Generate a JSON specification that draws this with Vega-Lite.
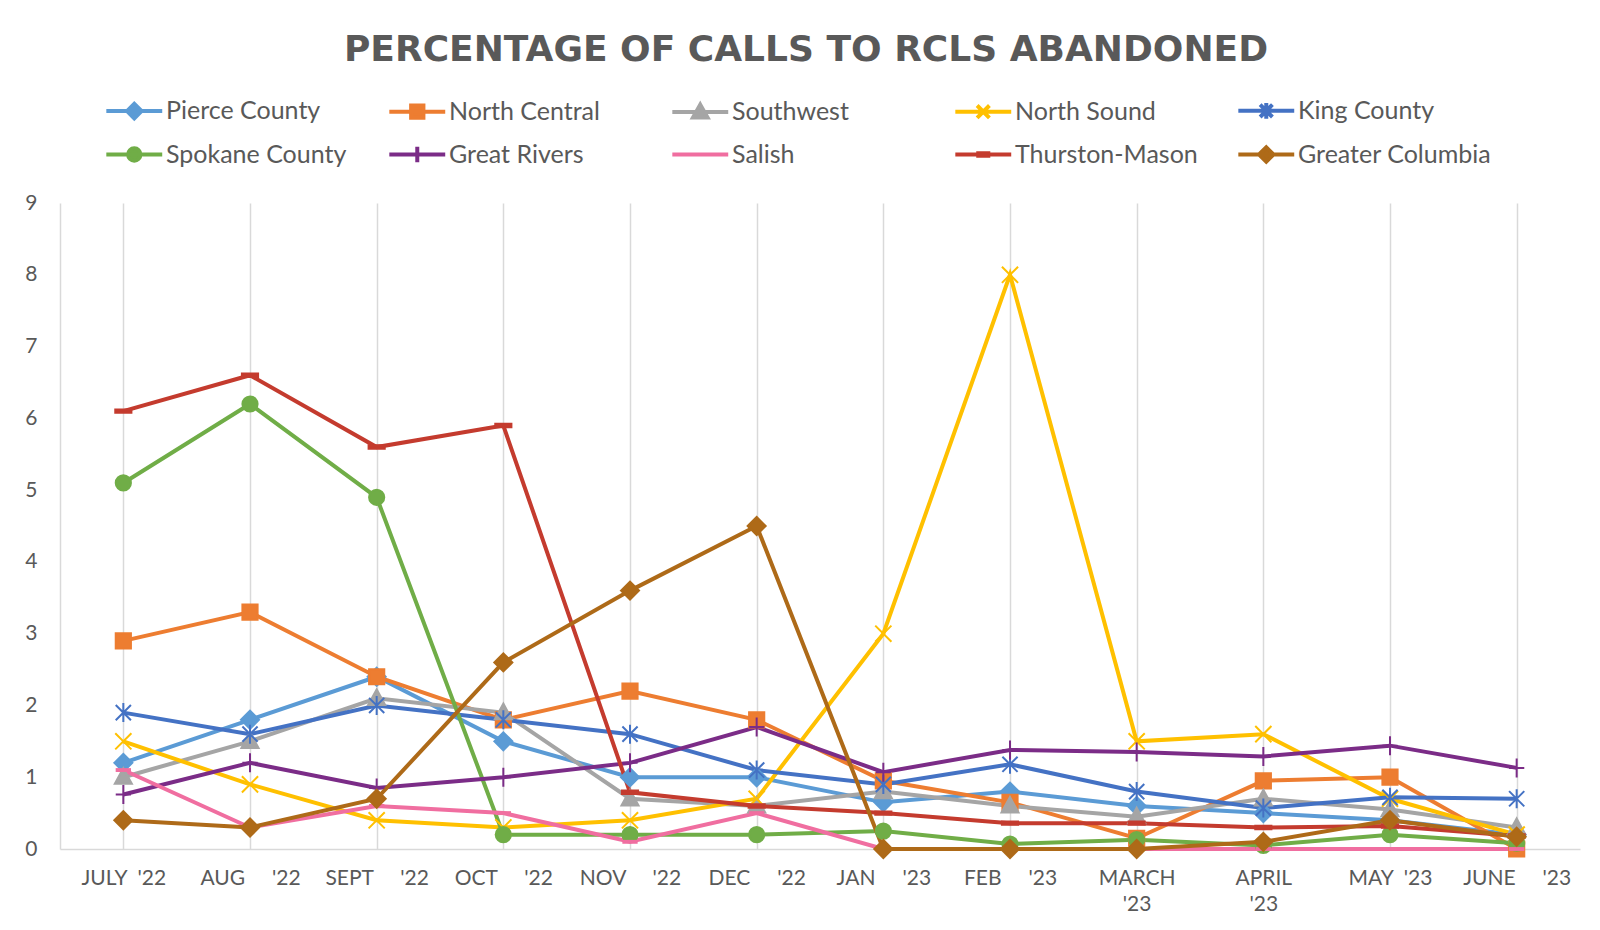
{
  "$schema": "https://vega.github.io/schema/vega-lite/v6.json",
  "width": 1520,
  "height": 646,
  "autosize": "none",
  "padding": {"left": 60, "top": 203, "right": 20, "bottom": 81},
  "background": "white",
  "title": {
    "text": "PERCENTAGE OF CALLS TO RCLS ABANDONED",
    "font": "DejaVu Sans",
    "fontSize": 36,
    "fontWeight": "bold",
    "color": "#595959",
    "anchor": "middle",
    "frame": "group",
    "dx": -14,
    "offset": 28
  },
  "config": {
    "view": {"stroke": null},
    "font": "Lato",
    "legend": {
      "titleLimit": 0,
      "direction": "horizontal",
      "columns": 5,
      "gridAlign": "all",
      "columnPadding": 21,
      "rowPadding": 11,
      "padding": 0,
      "symbolSize": 500,
      "labelOffset": 35,
      "labelFont": "Lato",
      "labelFontSize": 25,
      "labelColor": "#595959",
      "labelLimit": 300,
      "symbolOpacity": 1,
      "symbolStrokeWidth": 4
    }
  },
  "data": {
    "values": [
      {"m": "JULY '22", "r": "Pierce County", "v": 1.2},
      {"m": "AUG '22", "r": "Pierce County", "v": 1.8},
      {"m": "SEPT '22", "r": "Pierce County", "v": 2.4},
      {"m": "OCT '22", "r": "Pierce County", "v": 1.5},
      {"m": "NOV '22", "r": "Pierce County", "v": 1.0},
      {"m": "DEC '22", "r": "Pierce County", "v": 1.0},
      {"m": "JAN '23", "r": "Pierce County", "v": 0.65},
      {"m": "FEB '23", "r": "Pierce County", "v": 0.8},
      {"m": "MARCH '23", "r": "Pierce County", "v": 0.6},
      {"m": "APRIL '23", "r": "Pierce County", "v": 0.5},
      {"m": "MAY '23", "r": "Pierce County", "v": 0.4},
      {"m": "JUNE '23", "r": "Pierce County", "v": 0.2},

      {"m": "JULY '22", "r": "North Central", "v": 2.9},
      {"m": "AUG '22", "r": "North Central", "v": 3.3},
      {"m": "SEPT '22", "r": "North Central", "v": 2.4},
      {"m": "OCT '22", "r": "North Central", "v": 1.8},
      {"m": "NOV '22", "r": "North Central", "v": 2.2},
      {"m": "DEC '22", "r": "North Central", "v": 1.8},
      {"m": "JAN '23", "r": "North Central", "v": 0.95},
      {"m": "FEB '23", "r": "North Central", "v": 0.65},
      {"m": "MARCH '23", "r": "North Central", "v": 0.15},
      {"m": "APRIL '23", "r": "North Central", "v": 0.95},
      {"m": "MAY '23", "r": "North Central", "v": 1.0},
      {"m": "JUNE '23", "r": "North Central", "v": 0.0},

      {"m": "JULY '22", "r": "Southwest", "v": 1.0},
      {"m": "AUG '22", "r": "Southwest", "v": 1.5},
      {"m": "SEPT '22", "r": "Southwest", "v": 2.1},
      {"m": "OCT '22", "r": "Southwest", "v": 1.9},
      {"m": "NOV '22", "r": "Southwest", "v": 0.7},
      {"m": "DEC '22", "r": "Southwest", "v": 0.6},
      {"m": "JAN '23", "r": "Southwest", "v": 0.8},
      {"m": "FEB '23", "r": "Southwest", "v": 0.6},
      {"m": "MARCH '23", "r": "Southwest", "v": 0.45},
      {"m": "APRIL '23", "r": "Southwest", "v": 0.7},
      {"m": "MAY '23", "r": "Southwest", "v": 0.55},
      {"m": "JUNE '23", "r": "Southwest", "v": 0.3},

      {"m": "JULY '22", "r": "North Sound", "v": 1.5},
      {"m": "AUG '22", "r": "North Sound", "v": 0.9},
      {"m": "SEPT '22", "r": "North Sound", "v": 0.4},
      {"m": "OCT '22", "r": "North Sound", "v": 0.3},
      {"m": "NOV '22", "r": "North Sound", "v": 0.4},
      {"m": "DEC '22", "r": "North Sound", "v": 0.7},
      {"m": "JAN '23", "r": "North Sound", "v": 3.0},
      {"m": "FEB '23", "r": "North Sound", "v": 8.0},
      {"m": "MARCH '23", "r": "North Sound", "v": 1.5},
      {"m": "APRIL '23", "r": "North Sound", "v": 1.6},
      {"m": "MAY '23", "r": "North Sound", "v": 0.7},
      {"m": "JUNE '23", "r": "North Sound", "v": 0.2},

      {"m": "JULY '22", "r": "King County", "v": 1.9},
      {"m": "AUG '22", "r": "King County", "v": 1.6},
      {"m": "SEPT '22", "r": "King County", "v": 2.0},
      {"m": "OCT '22", "r": "King County", "v": 1.8},
      {"m": "NOV '22", "r": "King County", "v": 1.6},
      {"m": "DEC '22", "r": "King County", "v": 1.1},
      {"m": "JAN '23", "r": "King County", "v": 0.9},
      {"m": "FEB '23", "r": "King County", "v": 1.18},
      {"m": "MARCH '23", "r": "King County", "v": 0.8},
      {"m": "APRIL '23", "r": "King County", "v": 0.57},
      {"m": "MAY '23", "r": "King County", "v": 0.72},
      {"m": "JUNE '23", "r": "King County", "v": 0.7},

      {"m": "JULY '22", "r": "Spokane County", "v": 5.1},
      {"m": "AUG '22", "r": "Spokane County", "v": 6.2},
      {"m": "SEPT '22", "r": "Spokane County", "v": 4.9},
      {"m": "OCT '22", "r": "Spokane County", "v": 0.2},
      {"m": "NOV '22", "r": "Spokane County", "v": 0.2},
      {"m": "DEC '22", "r": "Spokane County", "v": 0.2},
      {"m": "JAN '23", "r": "Spokane County", "v": 0.25},
      {"m": "FEB '23", "r": "Spokane County", "v": 0.07},
      {"m": "MARCH '23", "r": "Spokane County", "v": 0.13},
      {"m": "APRIL '23", "r": "Spokane County", "v": 0.05},
      {"m": "MAY '23", "r": "Spokane County", "v": 0.2},
      {"m": "JUNE '23", "r": "Spokane County", "v": 0.08},

      {"m": "JULY '22", "r": "Great Rivers", "v": 0.76},
      {"m": "AUG '22", "r": "Great Rivers", "v": 1.2},
      {"m": "SEPT '22", "r": "Great Rivers", "v": 0.85},
      {"m": "OCT '22", "r": "Great Rivers", "v": 1.0},
      {"m": "NOV '22", "r": "Great Rivers", "v": 1.2},
      {"m": "DEC '22", "r": "Great Rivers", "v": 1.7},
      {"m": "JAN '23", "r": "Great Rivers", "v": 1.07},
      {"m": "FEB '23", "r": "Great Rivers", "v": 1.38},
      {"m": "MARCH '23", "r": "Great Rivers", "v": 1.35},
      {"m": "APRIL '23", "r": "Great Rivers", "v": 1.29},
      {"m": "MAY '23", "r": "Great Rivers", "v": 1.44},
      {"m": "JUNE '23", "r": "Great Rivers", "v": 1.13},

      {"m": "JULY '22", "r": "Salish", "v": 1.1},
      {"m": "AUG '22", "r": "Salish", "v": 0.3},
      {"m": "SEPT '22", "r": "Salish", "v": 0.6},
      {"m": "OCT '22", "r": "Salish", "v": 0.5},
      {"m": "NOV '22", "r": "Salish", "v": 0.1},
      {"m": "DEC '22", "r": "Salish", "v": 0.5},
      {"m": "JAN '23", "r": "Salish", "v": 0.0},
      {"m": "FEB '23", "r": "Salish", "v": 0.0},
      {"m": "MARCH '23", "r": "Salish", "v": 0.0},
      {"m": "APRIL '23", "r": "Salish", "v": 0.0},
      {"m": "MAY '23", "r": "Salish", "v": 0.0},
      {"m": "JUNE '23", "r": "Salish", "v": 0.0},

      {"m": "JULY '22", "r": "Thurston-Mason", "v": 6.1},
      {"m": "AUG '22", "r": "Thurston-Mason", "v": 6.6},
      {"m": "SEPT '22", "r": "Thurston-Mason", "v": 5.6},
      {"m": "OCT '22", "r": "Thurston-Mason", "v": 5.9},
      {"m": "NOV '22", "r": "Thurston-Mason", "v": 0.79},
      {"m": "DEC '22", "r": "Thurston-Mason", "v": 0.6},
      {"m": "JAN '23", "r": "Thurston-Mason", "v": 0.5},
      {"m": "FEB '23", "r": "Thurston-Mason", "v": 0.36},
      {"m": "MARCH '23", "r": "Thurston-Mason", "v": 0.36},
      {"m": "APRIL '23", "r": "Thurston-Mason", "v": 0.3},
      {"m": "MAY '23", "r": "Thurston-Mason", "v": 0.32},
      {"m": "JUNE '23", "r": "Thurston-Mason", "v": 0.18},

      {"m": "JULY '22", "r": "Greater Columbia", "v": 0.4},
      {"m": "AUG '22", "r": "Greater Columbia", "v": 0.3},
      {"m": "SEPT '22", "r": "Greater Columbia", "v": 0.7},
      {"m": "OCT '22", "r": "Greater Columbia", "v": 2.6},
      {"m": "NOV '22", "r": "Greater Columbia", "v": 3.6},
      {"m": "DEC '22", "r": "Greater Columbia", "v": 4.5},
      {"m": "JAN '23", "r": "Greater Columbia", "v": 0.0},
      {"m": "FEB '23", "r": "Greater Columbia", "v": 0.0},
      {"m": "MARCH '23", "r": "Greater Columbia", "v": 0.0},
      {"m": "APRIL '23", "r": "Greater Columbia", "v": 0.1},
      {"m": "MAY '23", "r": "Greater Columbia", "v": 0.4},
      {"m": "JUNE '23", "r": "Greater Columbia", "v": 0.17}
    ]
  },
  "encoding": {
    "x": {
      "field": "m",
      "type": "ordinal",
      "scale": {
        "domain": ["JULY '22", "AUG '22", "SEPT '22", "OCT '22", "NOV '22", "DEC '22", "JAN '23", "FEB '23", "MARCH '23", "APRIL '23", "MAY '23", "JUNE '23"],
        "paddingInner": 0,
        "paddingOuter": 0
      },
      "axis": {
        "title": null,
        "labelAngle": 0,
        "labelFont": "Lato",
        "labelFontSize": 21,
        "labelColor": "#595959",
        "labelPadding": 18,
        "labelLineHeight": 26,
        "labelExpr": "datum.value === \"MARCH '23\" ? ['MARCH', \"'23\"] : datum.value === \"APRIL '23\" ? ['APRIL', \"'23\"] : datum.value === \"JULY '22\" || datum.value === \"MAY '23\" ? replace(datum.value, ' ', '\u00a0\u00a0') : replace(datum.value, ' ', '\u00a0\u00a0\u00a0\u00a0\u00a0')",
        "ticks": false,
        "domainColor": "#D9D9D9",
        "domainWidth": 1.5,
        "grid": true,
        "bandPosition": 1,
        "gridColor": "#D9D9D9",
        "gridWidth": 1.5
      }
    },
    "y": {
      "field": "v",
      "type": "quantitative",
      "scale": {"domain": [0, 9], "nice": false},
      "axis": {
        "title": null,
        "values": [0, 1, 2, 3, 4, 5, 6, 7, 8, 9],
        "grid": false,
        "ticks": false,
        "domainColor": "#D9D9D9",
        "domainWidth": 1.5,
        "labelFont": "Lato",
        "labelFontSize": 21,
        "labelColor": "#595959",
        "labelPadding": 23
      }
    }
  },
  "resolve": {
    "scale": {"color": "independent", "stroke": "independent", "shape": "independent"},
    "legend": {"color": "independent", "stroke": "independent", "shape": "independent"}
  },
  "layer": [
    {
      "mark": {"type": "point", "filled": true, "opacity": 0, "size": 10},
      "encoding": {
        "color": {
          "field": "r",
          "type": "nominal",
          "scale": {
            "domain": ["Pierce County", "North Central", "Southwest", "North Sound", "King County", "Spokane County", "Great Rivers", "Salish", "Thurston-Mason", "Greater Columbia"],
            "range": ["#5B9BD5", "#ED7D31", "#A5A5A5", "#FFC000", "#4472C4", "#70AD47", "#7B2C87", "#F06EA0", "#C43B2E", "#AE6A18"]
          },
          "legend": {"title": null, "orient": "none", "legendX": 44, "legendY": -106, "symbolOpacity": 1}
        },
        "stroke": {
          "field": "r",
          "type": "nominal",
          "scale": {
            "domain": ["Pierce County", "North Central", "Southwest", "North Sound", "King County", "Spokane County", "Great Rivers", "Salish", "Thurston-Mason", "Greater Columbia"],
            "range": ["#5B9BD5", "#ED7D31", "#A5A5A5", "#FFC000", "#4472C4", "#70AD47", "#7B2C87", "#F06EA0", "#C43B2E", "#AE6A18"]
          },
          "legend": {"title": null, "orient": "none", "legendX": 44, "legendY": -106, "symbolOpacity": 1}
        },
        "shape": {
          "field": "r",
          "type": "nominal",
          "scale": {
            "domain": ["Pierce County", "North Central", "Southwest", "North Sound", "King County", "Spokane County", "Great Rivers", "Salish", "Thurston-Mason", "Greater Columbia"],
            "range": [
              "M-1,0L4,0M0.85,0L1.5,-0.65L2.15,0L1.5,0.65Z",
              "M-1,0L4,0M0.95,-0.55L2.05,-0.55L2.05,0.55L0.95,0.55Z",
              "M-1,0L4,0M1.5,-0.65L2.15,0.5L0.85,0.5Z",
              "M-1,0L4,0M0.95,-0.55L2.05,0.55M0.95,0.55L2.05,-0.55",
              "M-1,0L4,0M0.95,-0.55L2.05,0.55M0.95,0.55L2.05,-0.55M1.5,-0.7L1.5,0.7",
              "M-1,0L4,0M0.95,0A0.55,0.55,0,1,1,2.05,0A0.55,0.55,0,1,1,0.95,0Z",
              "M-1,0L4,0M1.5,-0.7L1.5,0.7",
              "M-1,0L4,0",
              "M-1,0L4,0M1.05,-0.12L1.95,-0.12L1.95,0.12L1.05,0.12Z",
              "M-1,0L4,0M0.85,0L1.5,-0.65L2.15,0L1.5,0.65Z"
            ]
          },
          "legend": {"title": null, "orient": "none", "legendX": 44, "legendY": -106, "symbolOpacity": 1}
        }
      }
    },
    {
      "mark": {"type": "line", "strokeWidth": 4},
      "encoding": {
        "color": {
          "field": "r",
          "type": "nominal",
          "scale": {
            "domain": ["Pierce County", "North Central", "Southwest", "North Sound", "King County", "Spokane County", "Great Rivers", "Salish", "Thurston-Mason", "Greater Columbia"],
            "range": ["#5B9BD5", "#ED7D31", "#A5A5A5", "#FFC000", "#4472C4", "#70AD47", "#7B2C87", "#F06EA0", "#C43B2E", "#AE6A18"]
          },
          "legend": null
        }
      }
    },
    {
      "mark": {"type": "point", "filled": true, "opacity": 1, "size": 361, "strokeWidth": 2},
      "encoding": {
        "color": {
          "field": "r",
          "type": "nominal",
          "scale": {
            "domain": ["Pierce County", "North Central", "Southwest", "North Sound", "King County", "Spokane County", "Great Rivers", "Salish", "Thurston-Mason", "Greater Columbia"],
            "range": ["#5B9BD5", "#ED7D31", "#A5A5A5", "#FFC000", "#4472C4", "#70AD47", "#7B2C87", "#F06EA0", "#C43B2E", "#AE6A18"]
          },
          "legend": null
        },
        "stroke": {
          "field": "r",
          "type": "nominal",
          "scale": {
            "domain": ["Pierce County", "North Central", "Southwest", "North Sound", "King County", "Spokane County", "Great Rivers", "Salish", "Thurston-Mason", "Greater Columbia"],
            "range": ["#5B9BD5", "#ED7D31", "#A5A5A5", "#FFC000", "#4472C4", "#70AD47", "#7B2C87", "#F06EA0", "#C43B2E", "#AE6A18"]
          },
          "legend": null
        },
        "shape": {
          "field": "r",
          "type": "nominal",
          "scale": {
            "domain": ["Pierce County", "North Central", "Southwest", "North Sound", "King County", "Spokane County", "Great Rivers", "Salish", "Thurston-Mason", "Greater Columbia"],
            "range": [
              "M-0.95,0L0,-0.95L0.95,0L0,0.95Z",
              "M-0.8,-0.8L0.8,-0.8L0.8,0.8L-0.8,0.8Z",
              "M0,-0.95L0.9,0.7L-0.9,0.7Z",
              "M-0.85,-0.85L0.85,0.85M-0.85,0.85L0.85,-0.85",
              "M-0.8,-0.8L0.8,0.8M-0.8,0.8L0.8,-0.8M0,-1L0,1",
              "M-0.8,0A0.8,0.8,0,1,1,0.8,0A0.8,0.8,0,1,1,-0.8,0Z",
              "M0,-1L0,1M-0.8,0L0.8,0",
              "M-0.7,-0.1L0.7,-0.1L0.7,0.1L-0.7,0.1Z",
              "M-0.85,-0.18L0.85,-0.18L0.85,0.18L-0.85,0.18Z",
              "M-0.95,0L0,-0.95L0.95,0L0,0.95Z"
            ]
          },
          "legend": null
        }
      }
    }
  ]
}
